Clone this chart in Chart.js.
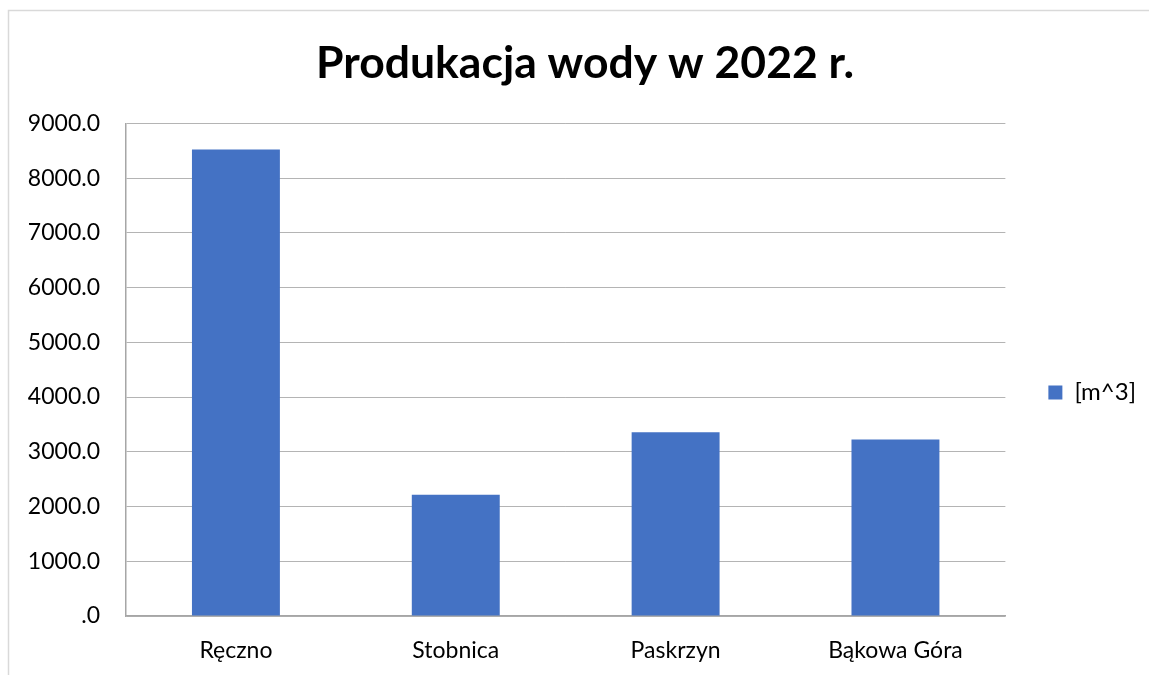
<!DOCTYPE html>
<html>
<head>
<meta charset="utf-8">
<script src="https://cdn.jsdelivr.net/npm/chart.js@4"></script>
<style>
  html, body { margin: 0; padding: 0; background: #fff; }
  #wrap { position: relative; width: 1149px; height: 675px; }
</style>
</head>
<body>
<div id="wrap"><canvas id="waterChart" width="1149" height="675"></canvas></div>
<script>
const ctx = document.getElementById("waterChart").getContext("2d")

const places = ["Ręczno", "Stobnica", "Paskrzyn", "Bąkowa Góra"]
const production = [8525, 2215, 3355, 3225]
const seriesName = "[m^3]"
const chartTitle = "Produkacja wody w 2022 r."

const fontFamily = "Lato, 'Open Sans', sans-serif"

// light frame round the whole chart, like the spreadsheet chart object
const framePlugin = {
  id: "frame",
  beforeDraw(chart) {
    const c = chart.ctx
    c.save()
    c.strokeStyle = "#d9d9d9"
    c.lineWidth = 1.5
    c.strokeRect(8.5, 10.5, chart.width + 20, chart.height + 20)
    c.restore()
  },
}

new Chart(ctx, {
  type: "bar",
  data: {
    labels: places,
    datasets: [
      {
        label: seriesName,
        data: production,
        backgroundColor: "#4472c4",
        borderColor: "#4472c4",
        borderWidth: 0,
        barPercentage: 0.4,
        categoryPercentage: 1.0,
      },
    ],
  },
  options: {
    responsive: false,
    animation: false,
    layout: {
      padding: { left: 24, right: 3, top: 37, bottom: 0 },
    },
    plugins: {
      title: {
        display: true,
        text: chartTitle,
        color: "#000",
        font: { family: fontFamily, size: 44.5, weight: "bold" },
        padding: { top: 0, bottom: 33 },
      },
      legend: {
        position: "right",
        // empty title only pushes the single item down to where the original sits
        title: {
          display: true,
          text: " ",
          font: { size: 1 },
          padding: { top: 36, bottom: 36 },
        },
        labels: {
          color: "#000",
          font: { family: fontFamily, size: 24 },
          boxWidth: 14,
          boxHeight: 14,
          padding: 43,
        },
      },
      tooltip: { enabled: false },
    },
    scales: {
      x: {
        grid: { display: false, drawTicks: false },
        border: { color: "#a6a6a6", width: 1.5 },
        ticks: {
          color: "#000",
          font: { family: fontFamily, size: 23 },
          padding: 21,
        },
        afterFit(scale) {
          scale.height = 59
        },
      },
      y: {
        min: 0,
        max: 9000,
        grid: { color: "#b4b4b4", drawTicks: false },
        border: { color: "#a6a6a6", width: 1.5 },
        ticks: {
          stepSize: 1000,
          color: "#000",
          font: { family: fontFamily, size: 23 },
          padding: 26,
          callback: function (value) {
            return value === 0 ? ".0" : value.toFixed(1)
          },
        },
        afterFit(scale) {
          scale.width = 102
        },
      },
    },
  },
  plugins: [framePlugin],
})
</script>
</body>
</html>
